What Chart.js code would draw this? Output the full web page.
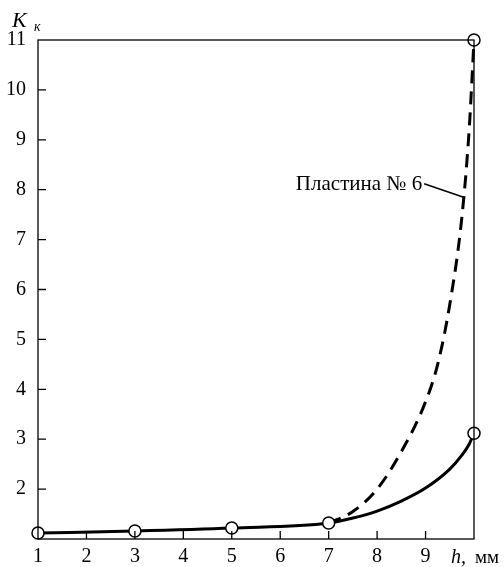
<!DOCTYPE html>
<html>
<head>
<meta charset="utf-8">
<script src="https://cdn.jsdelivr.net/npm/chart.js@4"></script>
<style>
  html, body { margin: 0; padding: 0; background: #fff; }
  #wrap { width: 504px; height: 567px; }
</style>
</head>
<body>
<div id="wrap"><canvas id="kkChart"></canvas></div>
<script>
// measured points (circles)
const pointH = [1, 3, 5, 7, 10, 10];
const pointK = [1.12, 1.16, 1.22, 1.32, 3.12, 11];

// solid curve
const solidH = [1, 3, 5, 7, 7.5, 8, 8.5, 9, 9.5, 9.75, 9.9, 10];
const solidK = [1.12, 1.16, 1.22, 1.32, 1.42, 1.56, 1.76, 2.02, 2.4, 2.68, 2.9, 3.12];

// dashed curve, plate No 6
const dashH = [7, 7.5, 8, 8.5, 9, 9.25, 9.5, 9.75, 9.9, 10];
const dashK = [1.32, 1.55, 2.0, 2.75, 3.75, 4.5, 5.7, 7.45, 9.2, 11];

const xTicks = [1, 2, 3, 4, 5, 6, 7, 8, 9, 10];
const yTicks = [1, 2, 3, 4, 5, 6, 7, 8, 9, 10, 11];

const plateLabel = "Пластина № 6";
const serif = "'Liberation Serif', 'DejaVu Serif', serif";

const toXY = (xs, ys) => xs.map((x, i) => ({ x: x, y: ys[i] }));

const framePlugin = {
    id: "frame",
    afterDraw(chart) {
        const ctx = chart.ctx;
        const a = chart.chartArea;
        const xs = chart.scales.x;
        const ys = chart.scales.y;
        ctx.save();
        ctx.strokeStyle = "#000";
        ctx.lineWidth = 1.3;
        ctx.strokeRect(a.left, a.top, a.right - a.left, a.bottom - a.top);

        // inward ticks
        ctx.beginPath();
        xTicks.slice(1, -1).forEach(v => {
            const px = xs.getPixelForValue(v);
            ctx.moveTo(px, a.bottom);
            ctx.lineTo(px, a.bottom - 8);
        });
        yTicks.slice(1, -1).forEach(v => {
            const py = ys.getPixelForValue(v);
            ctx.moveTo(a.left, py);
            ctx.lineTo(a.left + 8, py);
        });
        ctx.stroke();

        // axis titles
        ctx.fillStyle = "#000";
        ctx.textBaseline = "alphabetic";
        ctx.textAlign = "left";
        ctx.font = "italic 22px " + serif;
        ctx.fillText("K", 12, 27);
        ctx.font = "italic 14px " + serif;
        ctx.fillText("к", 34, 31);

        ctx.font = "italic 20px " + serif;
        ctx.fillText("h,", 451, 563);
        ctx.font = "19px " + serif;
        ctx.fillText("мм", 475, 563);

        // annotation
        const tx = xs.getPixelForValue(8.93);
        const ty = ys.getPixelForValue(8.12);
        ctx.font = "21px " + serif;
        ctx.textAlign = "right";
        ctx.textBaseline = "middle";
        ctx.fillText(plateLabel, tx, ty + 1);
        ctx.beginPath();
        ctx.lineWidth = 1.5;
        ctx.moveTo(tx + 2, ty);
        ctx.lineTo(xs.getPixelForValue(9.815), ys.getPixelForValue(7.84));
        ctx.stroke();
        ctx.restore();
    }
};

new Chart(document.getElementById("kkChart"), {
    type: "scatter",
    data: {
        datasets: [
            {
                data: toXY(pointH, pointK),
                showLine: false,
                pointRadius: 6,
                pointHoverRadius: 6,
                pointBackgroundColor: "#fff",
                pointBorderColor: "#000",
                pointBorderWidth: 1.5,
                order: 0,
                clip: false
            },
            {
                data: toXY(solidH, solidK),
                showLine: true,
                borderColor: "#000",
                borderWidth: 3,
                pointRadius: 0,
                cubicInterpolationMode: "monotone",
                order: 2,
                clip: false
            },
            {
                data: toXY(dashH, dashK),
                showLine: true,
                borderColor: "#000",
                borderWidth: 3,
                borderDash: [13, 8],
                pointRadius: 0,
                cubicInterpolationMode: "monotone",
                order: 1,
                clip: false
            }
        ]
    },
    options: {
        responsive: true,
        maintainAspectRatio: false,
        animation: false,
        events: [],
        layout: { padding: { top: 40, right: 30, left: 0, bottom: 0 } },
        plugins: {
            legend: { display: false },
            tooltip: { enabled: false }
        },
        scales: {
            x: {
                type: "linear",
                min: 1,
                max: 10,
                grid: { display: false, drawTicks: false },
                border: { display: false },
                afterBuildTicks: s => { s.ticks = xTicks.map(v => ({ value: v })); },
                afterFit: s => { s.height = 28; },
                ticks: {
                    padding: 6,
                    color: "#000",
                    font: { family: serif, size: 20 },
                    maxRotation: 0,
                    autoSkip: false,
                    callback: v => (v === 10 ? "" : String(v))
                }
            },
            y: {
                min: 1,
                max: 11,
                grid: { display: false, drawTicks: false },
                border: { display: false },
                afterBuildTicks: s => { s.ticks = yTicks.map(v => ({ value: v })); },
                afterFit: s => { s.width = 38; },
                ticks: {
                    padding: 12,
                    color: "#000",
                    font: { family: serif, size: 20 },
                    autoSkip: false,
                    callback: v => (v === 1 ? "" : String(v))
                }
            }
        }
    },
    plugins: [framePlugin]
});
</script>
</body>
</html>
